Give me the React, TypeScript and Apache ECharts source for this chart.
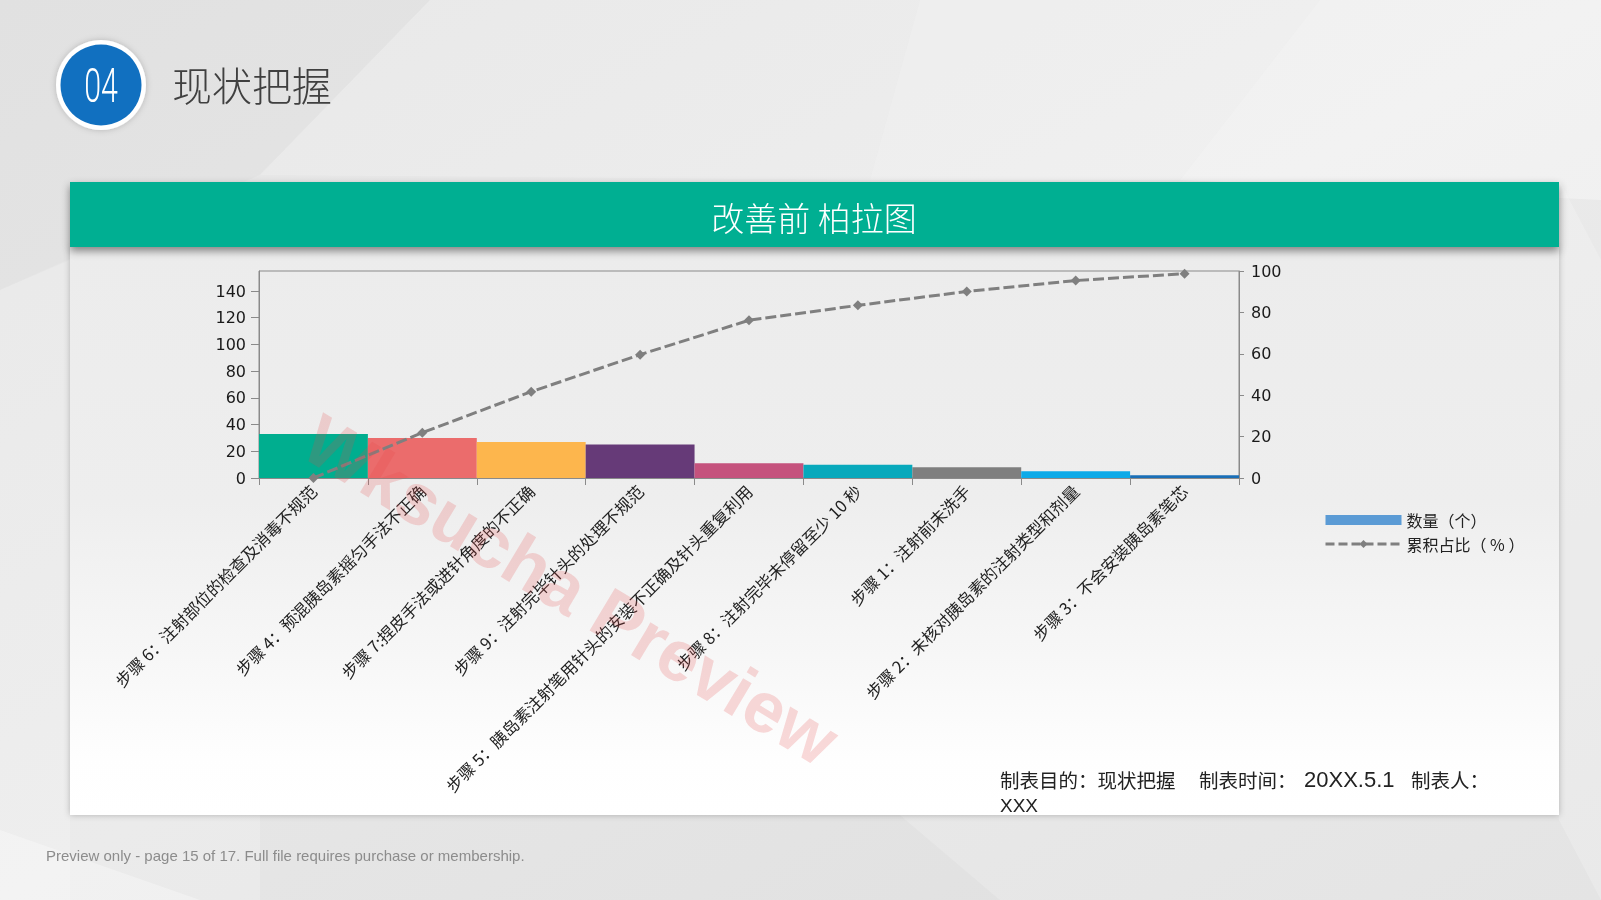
import React, { useEffect, useRef } from 'react';
import * as echarts from 'echarts';

const categories: string[] = [
  '步骤 6：注射部位的检查及消毒不规范',
  '步骤 4：预混胰岛素摇匀手法不正确',
  '步骤 7:捏皮手法或进针角度的不正确',
  '步骤 9：注射完毕针头的处理不规范',
  '步骤 5：胰岛素注射笔用针头的安装不正确及针头重复利用',
  '步骤 8：注射完毕未停留至少 10 秒',
  '步骤 1：注射前未洗手',
  '步骤 2：未核对胰岛素的注射类型和剂量',
  '步骤 3：不会安装胰岛素笔芯',
];
const counts: number[] = [33, 30, 27, 25, 11, 10, 8, 5, 2];
const cumulativePct: number[] = [0, 21.9, 41.7, 59.6, 76.2, 83.4, 90.1, 95.4, 98.7];
const barColors: string[] = ['#00AE8F', '#EB6C6C', '#FDB64D', '#663A78', '#C5527D', '#07A9BC', '#7F7F7F', '#0DAAE8', '#1A6FB7'];
const leftTickValues: number[] = [0, 20, 40, 60, 80, 100, 120, 140];
const rightTickValues: number[] = [0, 20, 40, 60, 80, 100];
const countName = '数量（个）';
const pctName = '累积占比（ % ）';

const CJK = "'Noto Sans CJK SC', 'Noto Sans', sans-serif";
const LAT = "'Liberation Sans', Arial, sans-serif";

export default function App() {
  const ref = useRef<HTMLDivElement>(null);
  useEffect(() => {
    if (!ref.current) return;
    const chart = echarts.init(ref.current, null, { renderer: 'svg' });
    const bgPolys: { p: number[][]; c: string }[] = [
      { p: [[0, 0], [430, 0], [260, 175], [0, 290]], c: 'rgba(0,0,0,0.015)' },
      { p: [[430, 0], [920, 0], [870, 180], [260, 175]], c: 'rgba(255,255,255,0.15)' },
      { p: [[920, 0], [1320, 0], [1180, 180], [870, 180]], c: 'rgba(255,255,255,0.25)' },
      { p: [[1320, 0], [1601, 0], [1601, 200], [1180, 180]], c: 'rgba(255,255,255,0.35)' },
      { p: [[0, 290], [70, 260], [70, 900], [0, 900]], c: 'rgba(255,255,255,0.15)' },
      { p: [[0, 830], [200, 900], [0, 900]], c: 'rgba(255,255,255,0.3)' },
      { p: [[260, 815], [900, 815], [1000, 900], [260, 900]], c: 'rgba(0,0,0,0.02)' },
      { p: [[1559, 180], [1601, 260], [1601, 900], [1559, 820]], c: 'rgba(255,255,255,0.2)' },
    ];
    const option: any = {
      animation: false,
      grid: {
        left: 259,
        right: 362,
        top: 271,
        bottom: 422,
        show: true,
        borderColor: '#8a8a8a',
        borderWidth: 1,
        backgroundColor: 'transparent',
      },
      legend: {
        orient: 'vertical',
        left: 1319,
        top: 505,
        itemWidth: 76,
        itemHeight: 10,
        itemGap: 4,
        textStyle: { fontSize: 16, color: '#222', fontFamily: CJK, lineHeight: 20 },
        data: [
          { name: countName, icon: 'rect' },
          { name: pctName, lineStyle: { width: 3, type: [9, 4] } },
        ],
      },
      xAxis: {
        type: 'category',
        data: categories,
        boundaryGap: true,
        axisLine: { lineStyle: { color: '#8a8a8a', width: 1 } },
        axisTick: { show: true, length: 7, lineStyle: { color: '#8a8a8a' } },
        axisLabel: {
          rotate: 45,
          interval: 0,
          fontSize: 16.5,
          color: '#222',
          fontFamily: CJK,
          margin: 10,
        },
        splitLine: { show: false },
      },
      yAxis: [
        {
          type: 'value',
          min: 0,
          max: 155,
          interval: 20,
          position: 'left',
          axisLine: { show: true, lineStyle: { color: '#8a8a8a' } },
          axisTick: { show: true, length: 8, lineStyle: { color: '#8a8a8a' }, customValues: leftTickValues },
          axisLabel: {
            fontSize: 16,
            color: '#1a1a1a',
            fontFamily: "'DejaVu Sans', sans-serif",
            margin: 13,
            customValues: leftTickValues,
            formatter: (v: number) => (v % 20 === 0 ? String(v) : ''),
          },
          splitLine: { show: false },
        },
        {
          type: 'value',
          min: 0,
          max: 100,
          interval: 20,
          position: 'right',
          axisLine: { show: true, lineStyle: { color: '#8a8a8a' } },
          axisTick: { show: true, length: 5, lineStyle: { color: '#8a8a8a' }, customValues: rightTickValues },
          axisLabel: {
            fontSize: 16,
            color: '#1a1a1a',
            fontFamily: "'DejaVu Sans', sans-serif",
            margin: 12,
            customValues: rightTickValues,
          },
          splitLine: { show: false },
        },
      ],
      series: [
        {
          name: countName,
          type: 'bar',
          yAxisIndex: 0,
          barWidth: '100%',
          barCategoryGap: 0,
          itemStyle: { color: '#5B9BD5' },
          data: counts.map((v, i) => ({ value: v, itemStyle: { color: barColors[i] } })),
          z: 2,
        },
        {
          name: pctName,
          type: 'line',
          yAxisIndex: 1,
          data: cumulativePct,
          symbol: 'diamond',
          symbolSize: 10,
          itemStyle: { color: '#7f7f7f' },
          lineStyle: { color: '#7f7f7f', width: 3, type: [11, 4] },
          z: 3,
        },
      ],
      graphic: [
        {
          type: 'rect',
          z: -20,
          silent: true,
          shape: { x: 0, y: 0, width: 1601, height: 900 },
          style: {
            fill: new echarts.graphic.LinearGradient(0, 0, 1, 1, [
              { offset: 0, color: '#e5e5e5' },
              { offset: 0.5, color: '#ebebeb' },
              { offset: 1, color: '#e4e4e4' },
            ]),
          },
        },
        ...bgPolys.map((b) => ({
          type: 'polygon',
          z: -19,
          silent: true,
          shape: { points: b.p },
          style: { fill: b.c },
        })),
        {
          type: 'rect',
          z: -10,
          silent: true,
          shape: { x: 70, y: 247, width: 1489, height: 568 },
          style: {
            fill: new echarts.graphic.LinearGradient(0, 0, 0, 1, [
              { offset: 0, color: '#ececec' },
              { offset: 0.45, color: '#eeeeee' },
              { offset: 0.75, color: '#f8f8f8' },
              { offset: 0.9, color: '#fefefe' },
              { offset: 1, color: '#ffffff' },
            ]),
            shadowBlur: 6,
            shadowColor: 'rgba(0,0,0,0.25)',
          },
        },
        {
          type: 'rect',
          z: -5,
          silent: true,
          shape: { x: 70, y: 182, width: 1489, height: 65 },
          style: {
            fill: '#00AF92',
            shadowBlur: 8,
            shadowOffsetY: 4,
            shadowColor: 'rgba(0,0,0,0.45)',
          },
        },
        {
          type: 'text',
          z: -4,
          silent: true,
          x: 814,
          y: 217,
          style: {
            text: '改善前 柏拉图',
            fill: '#ffffff',
            fontSize: 33,
            fontWeight: 300,
            fontFamily: CJK,
            textAlign: 'center',
            textVerticalAlign: 'middle',
          },
        },
        {
          type: 'circle',
          z: -4,
          silent: true,
          shape: { cx: 101, cy: 85, r: 45 },
          style: { fill: '#ffffff', shadowBlur: 6, shadowColor: 'rgba(0,0,0,0.2)' },
        },
        {
          type: 'circle',
          z: -3,
          silent: true,
          shape: { cx: 101, cy: 85, r: 40.5 },
          style: { fill: '#1170C0' },
        },
        {
          type: 'text',
          z: -2,
          silent: true,
          x: 101,
          y: 85,
          scaleX: 0.62,
          style: {
            text: '04',
            fill: '#ffffff',
            fontSize: 49,
            fontWeight: 300,
            fontFamily: "Roboto, 'DejaVu Sans', sans-serif",
            textAlign: 'center',
            textVerticalAlign: 'middle',
          },
        },
        {
          type: 'text',
          z: -2,
          silent: true,
          x: 172,
          y: 84,
          style: {
            text: '现状把握',
            fill: '#404040',
            fontSize: 40,
            fontWeight: 300,
            fontFamily: CJK,
            textAlign: 'left',
            textVerticalAlign: 'middle',
          },
        },
        ...[
          { t: '制表目的：现状把握', x: 1000, f: CJK, s: 19.5 },
          { t: '制表时间：', x: 1199, f: CJK, s: 19.5 },
          { t: '20XX.5.1', x: 1304, f: LAT, s: 22 },
          { t: '制表人：', x: 1411, f: CJK, s: 19.5 },
        ].map((it) => ({
          type: 'text',
          z: -2,
          silent: true,
          x: it.x,
          y: 779,
          style: {
            text: it.t,
            fill: '#222',
            fontSize: it.s,
            fontFamily: it.f,
            textAlign: 'left',
            textVerticalAlign: 'middle',
          },
        })),
        {
          type: 'text',
          z: -2,
          silent: true,
          x: 1000,
          y: 805,
          style: {
            text: 'XXX',
            fill: '#222',
            fontSize: 19,
            fontFamily: LAT,
            textAlign: 'left',
            textVerticalAlign: 'middle',
          },
        },
        {
          type: 'text',
          z: -2,
          silent: true,
          x: 46,
          y: 855,
          style: {
            text: 'Preview only - page 15 of 17. Full file requires purchase or membership.',
            fill: '#8c8c8c',
            fontSize: 15,
            fontFamily: LAT,
            textAlign: 'left',
            textVerticalAlign: 'middle',
          },
        },
        {
          type: 'text',
          z: 100,
          silent: true,
          x: 571,
          y: 590,
          rotation: (-31 * Math.PI) / 180,
          style: {
            text: 'Wksucha Preview',
            fill: 'rgba(230, 70, 70, 0.2)',
            fontSize: 72,
            fontWeight: 'bold',
            fontFamily: LAT,
            textAlign: 'center',
            textVerticalAlign: 'middle',
          },
        },
      ],
    };
    chart.setOption(option);
    return () => {
      chart.dispose();
    };
  }, []);
  return (
    <div
      ref={ref}
      style={{ position: 'fixed', left: 0, top: 0, width: 1601, height: 900 }}
    />
  );
}
